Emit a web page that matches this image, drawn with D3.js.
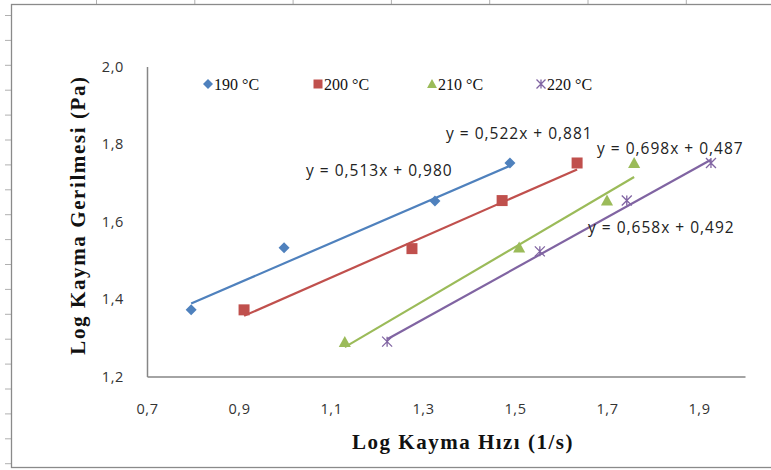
<!DOCTYPE html>
<html>
<head>
<meta charset="utf-8">
<script src="https://cdn.jsdelivr.net/npm/d3@7"></script>
<style>
  body { margin: 0; background: #fff; }
  svg { display: block; }
</style>
</head>
<body>
<script>
// Axis ticks
const xTicks = [0.7, 0.9, 1.1, 1.3, 1.5, 1.7, 1.9];
const yTicks = [1.2, 1.4, 1.6, 1.8, 2.0];

// Series: log shear rate (x) and log shear stress (y) per temperature
const seriesNames = ["190 °C", "200 °C", "210 °C", "220 °C"];
const logRate190 = [0.796, 0.998, 1.326, 1.489];
const logStress190 = [1.372, 1.532, 1.653, 1.751];
const logRate200 = [0.911, 1.276, 1.472, 1.635];
const logStress200 = [1.372, 1.530, 1.654, 1.751];
const logRate210 = [1.130, 1.509, 1.700, 1.759];
const logStress210 = [1.289, 1.533, 1.654, 1.751];
const logRate220 = [1.222, 1.554, 1.743, 1.926];
const logStress220 = [1.290, 1.523, 1.654, 1.751];

// Linear trendline coefficients
const slopes = [0.513, 0.522, 0.698, 0.658];
const intercepts = [0.980, 0.881, 0.487, 0.492];

const W = 771, H = 470;
const colors = ["#4F81BD", "#C0504D", "#9BBB59", "#8064A2"];
const shapes = ["diamond", "square", "triangle", "asterisk"];
const rates = [logRate190, logRate200, logRate210, logRate220];
const stresses = [logStress190, logStress200, logStress210, logStress220];

const series = seriesNames.map((name, i) => ({
  name, color: colors[i], shape: shapes[i],
  slope: slopes[i], intercept: intercepts[i],
  points: rates[i].map((x, j) => ({ x, y: stresses[i][j] }))
}));

// equation label anchors (left x, baseline y) in pixels
const eqPos = [[306, 176], [446, 139], [597, 154], [588, 233]];

const svg = d3.select("body").append("svg")
  .attr("width", W).attr("height", H);

// page ruler marks and frame
const ruler = svg.append("g").attr("stroke", "#b0b0b0").attr("stroke-width", 1);
d3.range(7).forEach(k => {
  const x = 96.5 + k * 98.3;
  ruler.append("line").attr("x1", x).attr("x2", x).attr("y1", 0).attr("y2", 4);
});
d3.range(19).forEach(k => {
  const y = 15.5 + k * 24.9;
  ruler.append("line").attr("x1", 5).attr("x2", 11).attr("y1", y).attr("y2", y);
});
svg.append("rect")
  .attr("x", 11.5).attr("y", 4.5).attr("width", W + 5).attr("height", 463)
  .attr("fill", "none").attr("stroke", "#8a8a8a").attr("stroke-width", 1.3);

const x = d3.scaleLinear().domain([0.7, 2.0]).range([147, 745]);
const y = d3.scaleLinear().domain([1.2, 2.0]).range([376.5, 66.5]);

const fmt = d => d.toFixed(1).replace(".", ",");

// axes
const axisColor = "#868686";
const gx = svg.append("g").attr("transform", `translate(0,${y(1.2)})`)
  .call(d3.axisBottom(x).tickValues(xTicks).tickSize(0).tickPadding(27).tickFormat(fmt));
const gy = svg.append("g").attr("transform", `translate(${x(0.7)},0)`)
  .call(d3.axisLeft(y).tickValues(yTicks).tickSize(0).tickPadding(23).tickFormat(fmt));
[gx, gy].forEach(g => {
  g.select(".domain").attr("stroke", axisColor).attr("stroke-width", 1.5);
  g.selectAll("text")
    .attr("font-family", "'Open Sans', sans-serif")
    .attr("font-size", 14.5).attr("fill", "#333")
    .attr("letter-spacing", 0.6);
});

// axis titles
svg.append("text")
  .attr("x", 463).attr("y", 449).attr("text-anchor", "middle")
  .attr("font-family", "'Liberation Serif', 'Times New Roman', serif")
  .attr("font-weight", "bold").attr("font-size", 21).attr("letter-spacing", 1.5)
  .attr("fill", "#111").text("Log Kayma Hızı (1/s)");
svg.append("text")
  .attr("transform", "translate(85,215) rotate(-90)").attr("text-anchor", "middle")
  .attr("font-family", "'Liberation Serif', 'Times New Roman', serif")
  .attr("font-weight", "bold").attr("font-size", 21).attr("letter-spacing", 1.6)
  .attr("fill", "#111").text("Log Kayma Gerilmesi  (Pa)");

// marker path generator
function markerPath(shape, s) {
  const r = s / 2;
  switch (shape) {
    case "diamond": return `M0,${-r}L${r},0L0,${r}L${-r},0Z`;
    case "square": return `M${-r},${-r}h${s}v${s}h${-s}Z`;
    case "triangle": return `M0,${-s*0.55}L${s*0.55},${s*0.45}L${-s*0.55},${s*0.45}Z`;
    case "asterisk":
      return `M${-r},${-r}L${r},${r}M${-r},${r}L${r},${-r}M0,${-r}L0,${r}`;
  }
}
function drawMarker(g, shape, color, cx, cy, s) {
  const p = g.append("path").attr("d", markerPath(shape, s))
    .attr("transform", `translate(${cx},${cy})`);
  if (shape === "asterisk") p.attr("fill", "none").attr("stroke", color).attr("stroke-width", 1.3);
  else p.attr("fill", color);
}
const markerSize = { diamond: 11, square: 11, triangle: 11, asterisk: 10 };

// trendlines, markers, equations
const plot = svg.append("g");
series.forEach(s => {
  const [x0, x1] = d3.extent(s.points, d => d.x);
  plot.append("line")
    .attr("x1", x(x0)).attr("y1", y(s.slope * x0 + s.intercept))
    .attr("x2", x(x1)).attr("y2", y(s.slope * x1 + s.intercept))
    .attr("stroke", s.color).attr("stroke-width", 2.2);
});
series.forEach(s => {
  s.points.forEach(p => drawMarker(plot, s.shape, s.color, x(p.x), y(p.y), markerSize[s.shape]));
});
series.forEach((s, i) => {
  const c = v => v.toFixed(3).replace(".", ",");
  svg.append("text")
    .attr("x", eqPos[i][0]).attr("y", eqPos[i][1])
    .attr("font-family", "'Open Sans', sans-serif").attr("font-size", 15.5)
    .attr("letter-spacing", 1.0).attr("fill", "#222")
    .text(`y = ${c(s.slope)}x + ${c(s.intercept)}`);
});

// legend
const legendX = [208, 318, 432, 541];
const legend = svg.append("g");
series.forEach((s, i) => {
  drawMarker(legend, s.shape, s.color, legendX[i], 84, s.shape === "diamond" ? 10 : 9);
  legend.append("text")
    .attr("x", legendX[i] + 6).attr("y", 89.5)
    .attr("font-family", "'Liberation Serif', 'Times New Roman', serif")
    .attr("font-size", 16).attr("fill", "#111")
    .text(s.name);
});
</script>
</body>
</html>
